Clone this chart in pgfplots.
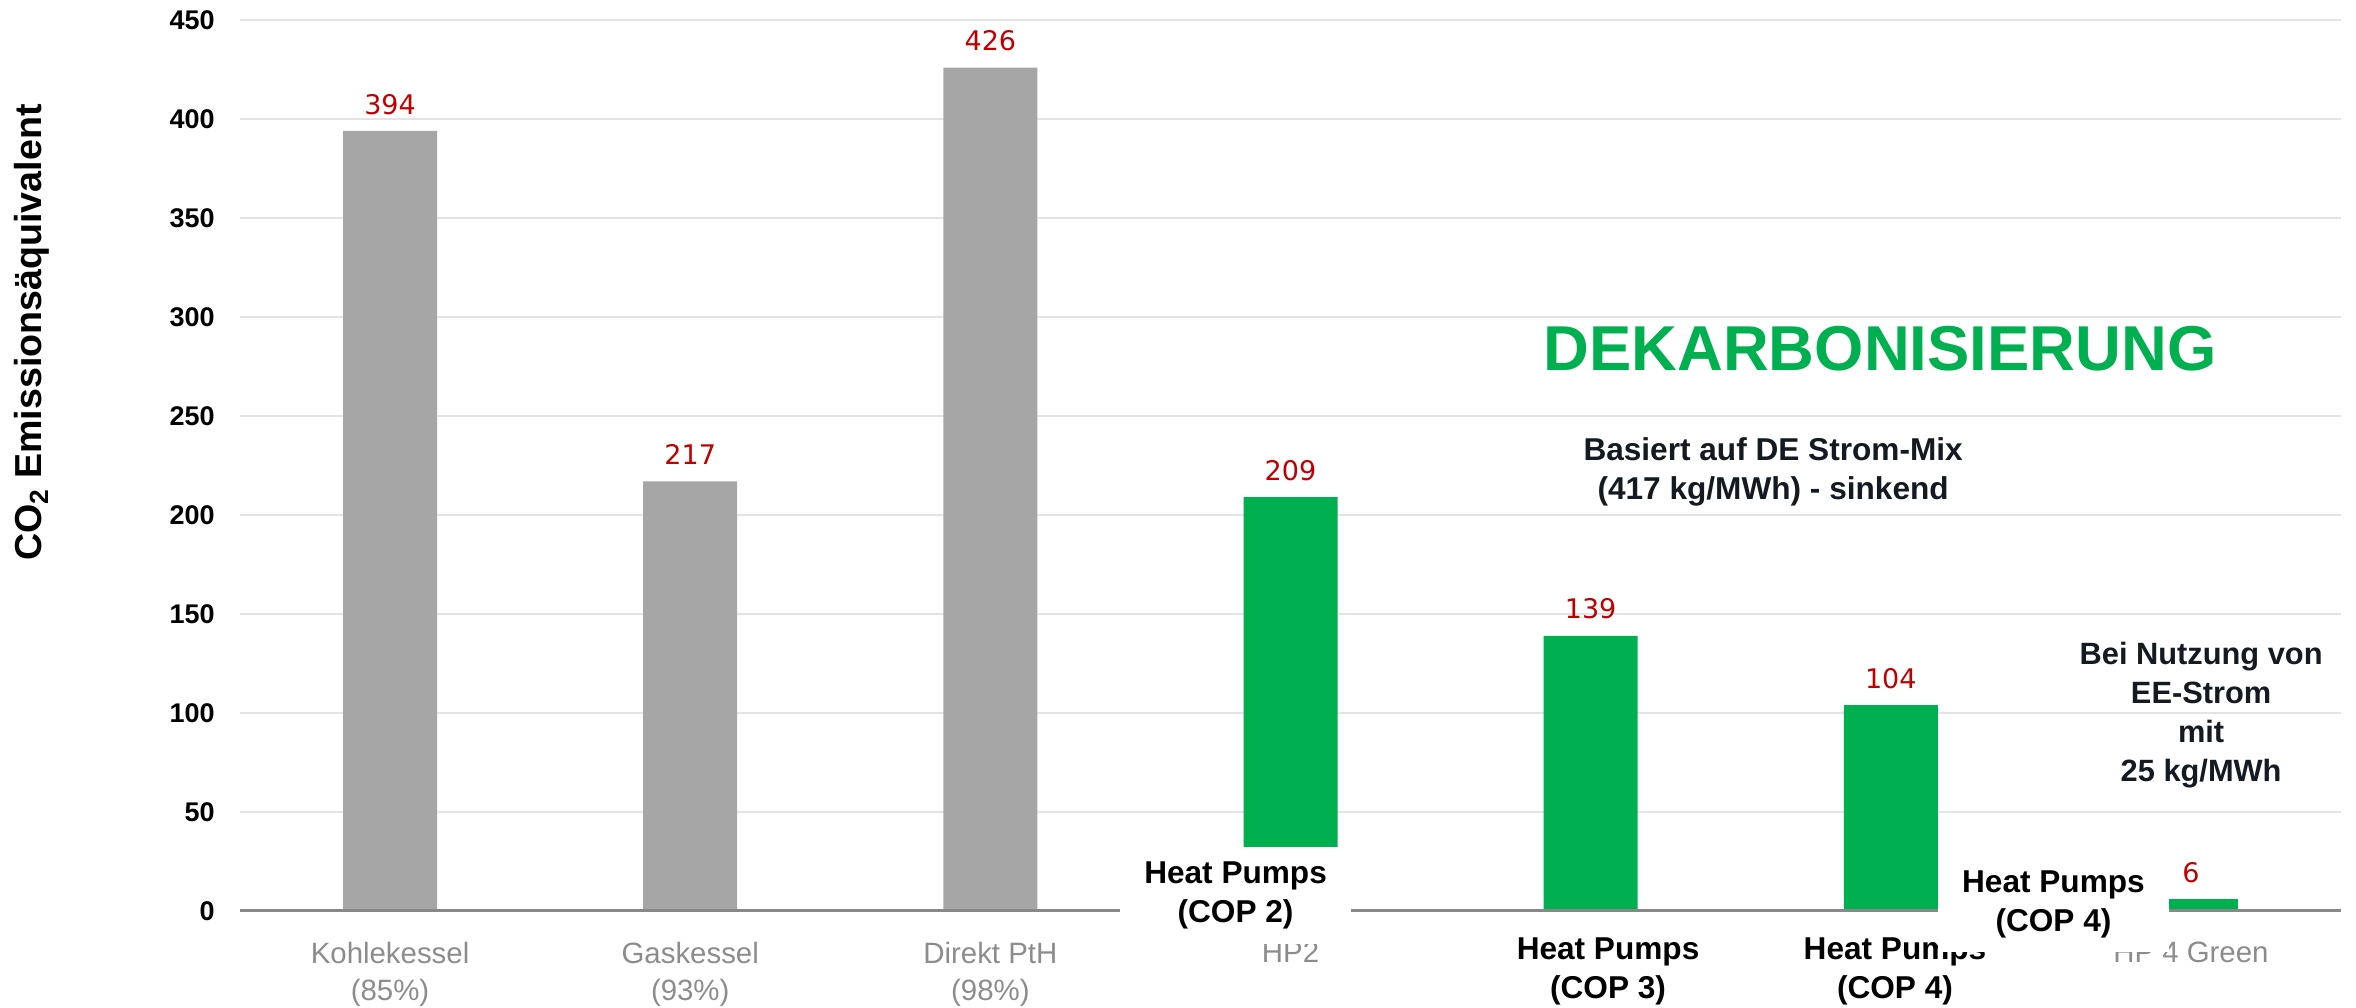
\documentclass[border=0pt]{standalone}
\usepackage{fontspec}
\setmainfont{Liberation Sans}
\newfontfamily\dejavu{DejaVu Sans}
\usepackage{pgfplots}
\pgfplotsset{compat=1.18}
\definecolor{barGray}{HTML}{A6A6A6}
\definecolor{barGreen}{HTML}{00B050}
\definecolor{valRed}{HTML}{C00000}
\definecolor{tickGray}{HTML}{8C8C8C}
\definecolor{gridGray}{HTML}{E4E4E4}
\definecolor{axisGray}{HTML}{888888}
\definecolor{txtDark}{HTML}{141A22}
\tikzset{hpbox/.style={fill=white, align=center, inner sep=0pt, minimum width=115.5pt, minimum height=48.5pt, font=\bfseries\fontsize{15.8}{19.5}\selectfont, text=black}}
\begin{document}
\begin{tikzpicture}
\begin{axis}[
  scale only axis, width=1050.5pt, height=445.5pt,
  xmin=-0.5, xmax=6.5, ymin=0, ymax=450,
  ybar, bar width=47pt,
  axis line style={draw=none},
  major tick length=0pt,
  ytick={0,50,...,450},
  ymajorgrids, grid style={gridGray, line width=1pt},
  xtick={0,...,6},
  xticklabels={{Kohlekessel\\(85\%)},{Gaskessel\\(93\%)},{Direkt PtH\\(98\%)},HP2,{},{},HP 4 Green},
  xticklabel style={align=center, font=\fontsize{14.7}{18.5}\selectfont, text=tickGray, anchor=north, inner sep=0pt, yshift=-15.5pt},
  yticklabel style={font=\bfseries\fontsize{13.5}{16}\selectfont, anchor=east, inner sep=0pt, xshift=-12.5pt},
  /pgf/number format/assume math mode=true,
  nodes near coords,
  nodes near coords style={font=\dejavu\fontsize{13.5}{16}\selectfont, text=valRed, anchor=south, inner sep=0pt, yshift=8pt},
  clip=false,
]
\addplot[fill=barGray, draw=none, bar shift=0pt] coordinates {(0,394) (1,217) (2,426)};
\addplot[fill=barGreen, draw=none, bar shift=0pt] coordinates {(3,209) (4,139) (5,104) (6,6)};
\draw[axisGray, line width=1.5pt] (axis cs:-0.5,0) -- (axis cs:6.5,0);
\coordinate (ll) at (rel axis cs:0,0);
\coordinate (ur) at (rel axis cs:1,1);
\node[hpbox] at (axis cs:2.817,7.8) {Heat Pumps\\(COP 2)};
\node[hpbox] at (axis cs:4.058,-30.6) {Heat Pumps\\(COP 3)};
\node[hpbox] at (axis cs:5.014,-30.6) {Heat Pumps\\(COP 4)};
\node[hpbox] at (axis cs:5.542,3.54) {Heat Pumps\\(COP 4)};
\node[font=\bfseries\fontsize{31.7}{36}\selectfont, text=barGreen] at (axis cs:4.964,283.8) {DEKARBONISIERUNG};
\node[align=center, font=\bfseries\fontsize{15.8}{19.5}\selectfont, text=txtDark] at (axis cs:4.608,222) {Basiert auf DE Strom-Mix\\(417 kg/MWh) - sinkend};
\node[align=center, font=\bfseries\fontsize{15.4}{19.5}\selectfont, text=txtDark] at (axis cs:6.034,98.7) {Bei Nutzung von\\EE-Strom\\mit\\25 kg/MWh};
\node[rotate=90, font=\bfseries\fontsize{18.8}{22}\selectfont, yshift=104pt] at (rel axis cs:0,0.649) {CO\textsubscript{2} Emissionsäquivalent};
\end{axis}
\pgfresetboundingbox
\path[use as bounding box] ([xshift=-120pt,yshift=-48.5pt]ll) rectangle ([xshift=7.5pt,yshift=10pt]ur);
\end{tikzpicture}
\end{document}
